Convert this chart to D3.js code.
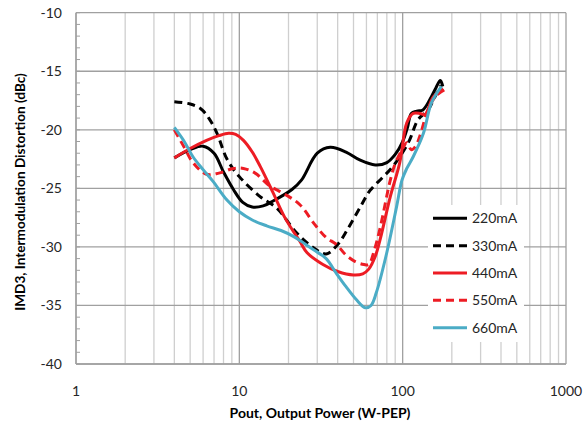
<!DOCTYPE html>
<html><head><meta charset="utf-8">
<script src="https://cdn.jsdelivr.net/npm/d3@7"></script>
<style>body{margin:0;background:#fff}svg{display:block}</style>
</head><body>
<script>
// ---- data ----
const xTickLabels = ["1", "10", "100", "1000"];
const yTickLabels = [-40, -35, -30, -25, -20, -15, -10];
const seriesNames = ["220mA", "330mA", "440mA", "550mA", "660mA"];

const p220 = [4, 5, 6, 7, 8, 9.2, 10.5, 12, 14, 16, 21, 24, 30, 36, 45, 55, 68, 80, 90, 100, 107, 113, 122, 133, 147, 160, 170, 176];
const v220 = [-22.4, -21.7, -21.4, -22.0, -23.6, -25.1, -26.2, -26.6, -26.5, -26.1, -25.1, -24.3, -22.0, -21.5, -21.9, -22.6, -23.0, -22.8, -22.1, -21.0, -19.8, -18.6, -18.4, -18.3, -17.4, -16.4, -15.8, -16.3];

const p330 = [4, 5, 5.8, 6.5, 7.3, 8.4, 10, 13.4, 17, 22.4, 28, 34, 40, 46, 55, 63, 75, 85, 95, 110, 124, 143, 160, 172];
const v330 = [-17.6, -17.8, -18.2, -19.0, -20.3, -22.5, -24.0, -25.7, -26.7, -28.8, -30.0, -30.6, -29.8, -28.5, -26.6, -25.2, -24.1, -23.3, -22.4, -20.9, -19.15, -18.3, -17.0, -16.2];

const p440 = [4, 5, 6.3, 7.5, 8.6, 9.5, 10.6, 12, 13.4, 16, 19, 23.4, 26, 32.5, 40, 50, 57, 62, 68, 73, 84, 96, 106, 116, 128, 137, 154, 177];
const v440 = [-22.4, -21.6, -20.9, -20.5, -20.3, -20.4, -20.9, -21.9, -23.1, -25.3, -27.5, -29.5, -30.5, -31.5, -32.1, -32.4, -32.3, -31.9, -30.8, -29.3, -25.7, -22.8, -19.4, -18.6, -18.6, -18.7, -17.2, -16.5];

const p550 = [4, 4.6, 5.2, 6.3, 7.5, 9.2, 10.6, 12.5, 15.4, 19, 23.5, 29, 34, 39.4, 45, 52, 58, 62, 67, 73, 84, 90, 100, 106, 113, 120, 127, 143, 160, 180];
const v550 = [-20.0, -21.5, -22.8, -23.8, -23.7, -23.3, -23.3, -23.7, -24.8, -25.5, -26.4, -28.1, -29.2, -29.8, -30.7, -31.3, -31.5, -31.5, -30.3, -28.3, -24.3, -22.9, -21.6, -21.1, -21.7, -21.4, -20.6, -18.3, -17.1, -16.6];

const p660 = [4, 4.6, 5.2, 6, 6.9, 8.4, 10, 12, 14.7, 18, 21.4, 25, 28.5, 34, 39, 45, 52, 59, 64, 69, 79, 92, 99, 106, 116, 134, 150, 173];
const v660 = [-19.8, -21.0, -22.3, -23.4, -24.4, -26.0, -27.0, -27.7, -28.2, -28.6, -29.1, -29.7, -30.25, -31.0, -32.2, -33.4, -34.5, -35.2, -35.0, -33.9, -30.8, -26.5, -24.3, -23.3, -22.3, -20.3, -17.7, -16.3];

const series = [
  {name: seriesNames[0], p: p220, v: v220, color: "#000000", dash: null},
  {name: seriesNames[1], p: p330, v: v330, color: "#000000", dash: "8,5"},
  {name: seriesNames[2], p: p440, v: v440, color: "#ED1C24", dash: null},
  {name: seriesNames[3], p: p550, v: v550, color: "#ED1C24", dash: "8,5"},
  {name: seriesNames[4], p: p660, v: v660, color: "#4BACC6", dash: null}
];

// ---- layout ----
const W = 586, H = 433;
const L = 76, R = 566, T = 12.7, B = 364;
const svg = d3.select("body").append("svg").attr("width", W).attr("height", H);
const x = d3.scaleLog().domain([1, 1000]).range([L, R]);
const y = d3.scaleLinear().domain([-40, -10]).range([B, T]);
const font = "Lato, 'Open Sans', sans-serif";

// vertical grid
const g = svg.append("g");
x.ticks().forEach(t => {
  const major = Math.abs(Math.log10(t) - Math.round(Math.log10(t))) < 1e-9;
  g.append("line").attr("x1", x(t)).attr("x2", x(t)).attr("y1", T).attr("y2", B)
    .attr("stroke", major ? "#a0a0a0" : "#cfcfcf").attr("stroke-width", 1.3);
});
// horizontal grid
yTickLabels.forEach(v => {
  g.append("line").attr("x1", L).attr("x2", R).attr("y1", y(v)).attr("y2", y(v))
    .attr("stroke", "#a0a0a0").attr("stroke-width", 1.3);
});
// y axis with minor inward ticks
const yMinor = d3.range(-40, -9, 1);
g.selectAll(".ym").data(yMinor).enter().append("line")
  .attr("x1", L).attr("x2", L + 4).attr("y1", d => y(d)).attr("y2", d => y(d))
  .attr("stroke", "#a0a0a0").attr("stroke-width", 1);
g.append("line").attr("x1", L).attr("x2", L).attr("y1", T).attr("y2", B).attr("stroke", "#a0a0a0").attr("stroke-width", 1.3);
g.append("line").attr("x1", L).attr("x2", R).attr("y1", B).attr("y2", B).attr("stroke", "#a0a0a0").attr("stroke-width", 1.3);

// tick labels
svg.selectAll(".yl").data(yTickLabels).enter().append("text")
  .attr("x", 62).attr("y", d => y(d)).attr("dy", "0.35em").attr("text-anchor", "end")
  .attr("font-family", font).attr("font-size", 14).attr("fill", "#262626").text(d => d);
svg.selectAll(".xl").data(xTickLabels).enter().append("text")
  .attr("x", d => x(+d)).attr("y", 391).attr("dy", "0.35em").attr("text-anchor", "middle")
  .attr("font-family", font).attr("font-size", 14).attr("fill", "#262626").text(d => d);

// axis titles
svg.append("text").attr("x", 320).attr("y", 413).attr("dy", "0.35em").attr("text-anchor", "middle")
  .attr("font-family", font).attr("font-size", 14).attr("font-weight", "bold").attr("fill", "#000")
  .text("Pout, Output Power (W-PEP)");
svg.append("text").attr("transform", "translate(20,192) rotate(-90)").attr("dy", "0.35em").attr("text-anchor", "middle")
  .attr("font-family", font).attr("font-size", 13.6).attr("font-weight", "bold").attr("fill", "#000")
  .text("IMD3, Intermodulation Distortion (dBc)");

// lines
const line = d3.line().x(d => x(d[0])).y(d => y(d[1])).curve(d3.curveCatmullRom.alpha(0.5));
series.forEach(s => {
  const pts = s.p.map((p, i) => [p, s.v[i]]);
  svg.append("path").datum(pts).attr("d", line).attr("fill", "none")
    .attr("stroke", s.color).attr("stroke-width", 3)
    .attr("stroke-dasharray", s.dash).attr("stroke-linejoin", "round");
});

// legend
const lg = svg.append("g");
lg.append("rect").attr("x", 428).attr("y", 205).attr("width", 96).attr("height", 137).attr("fill", "#fff");
series.forEach((s, i) => {
  const yy = 218.3 + i * 27.35;
  lg.append("line").attr("x1", 433).attr("x2", 467).attr("y1", yy).attr("y2", yy)
    .attr("stroke", s.color).attr("stroke-width", 3).attr("stroke-dasharray", s.dash);
  lg.append("text").attr("x", 472).attr("y", yy).attr("dy", "0.35em")
    .attr("font-family", font).attr("font-size", 14).attr("fill", "#262626").text(s.name);
});
</script>
</body></html>
